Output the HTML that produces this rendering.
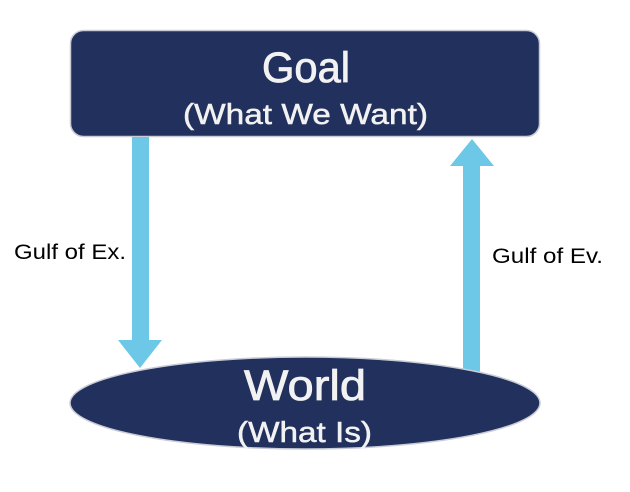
<!DOCTYPE html>
<html><head><style>
html,body{margin:0;padding:0;background:#fff;}
svg{display:block;}
text{font-family:"Liberation Sans",sans-serif;fill:#f2f2f2;}
</style></head><body>
<svg width="630" height="492" viewBox="0 0 630 492">
<rect x="70.5" y="30.5" width="469" height="106" rx="13" fill="#21305c" stroke="#c9ccd6" stroke-width="1.5"/>
<text x="262" y="82" font-size="43" textLength="88" lengthAdjust="spacingAndGlyphs" stroke="#f2f2f2" stroke-width="0.8">Goal</text>
<text x="183" y="124" font-size="29" textLength="245" lengthAdjust="spacingAndGlyphs" stroke="#f2f2f2" stroke-width="0.5">(What We Want)</text>
<rect x="132" y="137" width="17" height="205" fill="#6cc8e6"/>
<polygon points="118,340 162,340 140,368" fill="#6cc8e6"/>
<rect x="463" y="164" width="17" height="210" fill="#6cc8e6"/>
<polygon points="450,166 494,166 472,139" fill="#6cc8e6"/>
<ellipse cx="305" cy="403" rx="235" ry="46" fill="#21305c" stroke="#c9ccd6" stroke-width="1.5"/>
<text x="244" y="400" font-size="43" textLength="122" lengthAdjust="spacingAndGlyphs" stroke="#f2f2f2" stroke-width="0.8">World</text>
<text x="237" y="442" font-size="29" textLength="135" lengthAdjust="spacingAndGlyphs" stroke="#f2f2f2" stroke-width="0.5">(What Is)</text>
<text x="14" y="259" font-size="21" textLength="112" lengthAdjust="spacingAndGlyphs" style="fill:#000">Gulf of Ex.</text>
<text x="492" y="263" font-size="21" textLength="111" lengthAdjust="spacingAndGlyphs" style="fill:#000">Gulf of Ev.</text>
</svg>
</body></html>
